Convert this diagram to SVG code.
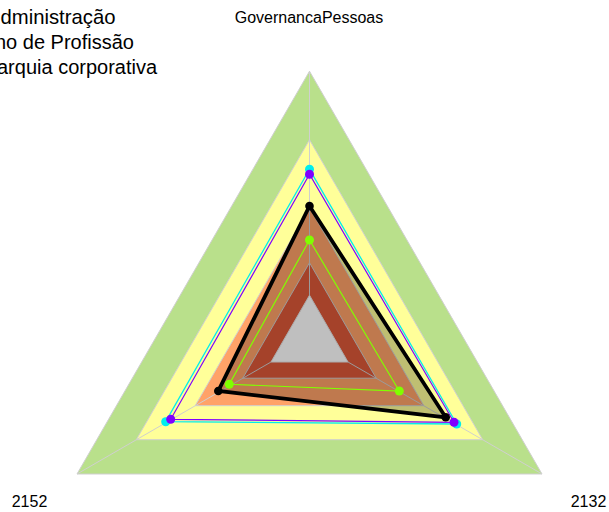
<svg xmlns="http://www.w3.org/2000/svg" width="609" height="512" viewBox="0 0 609 512">
<style>
.t{font-family:"Liberation Sans",Arial,sans-serif;fill:#000}
.band{stroke:#cfcfcf;stroke-width:1}
.axis{stroke:#cfcfcf;stroke-width:1;fill:none}
.ser{fill:none;stroke-linejoin:miter}
</style>
<rect width="609" height="512" fill="#fff"/>
<g id="bands">
<polygon class="band" fill="#b9e08b" points="309.5,71.2 77,474 542,474"/>
<polygon class="band" fill="#ffff99" points="309.5,139.7 136.3,439.7 482.7,439.7"/>
<polygon class="band" fill="#ffa268" points="309.5,207.7 195.2,405.7 423.8,405.7"/>
<polygon class="band" fill="#dd5839" points="309.5,262.7 242.8,378.2 376.2,378.2"/>
<polygon fill="#ffffff" stroke="#e6e6e6" stroke-width="1" points="309.5,295.2 271,362 348,362"/>
</g>
<g id="axes">
<line class="axis" x1="309.5" y1="295.2" x2="309.5" y2="71.2"/>
<line class="axis" x1="271" y1="362" x2="77" y2="474"/>
<line class="axis" x1="348" y1="362" x2="542" y2="474"/>
</g>
<g id="series-fill">
<polygon fill="#000" fill-opacity="0.25" points="309.5,206 218.3,391 445.7,417.3"/>
</g>
<g id="connectors">
<polygon class="ser" stroke="#00eeee" stroke-width="1.3" points="309.5,169.3 165.7,421.7 456.7,424"/>
<polygon class="ser" stroke="#8000ff" stroke-width="1.2" points="309.5,174.3 170.7,419.3 454,422.3"/>
<polygon class="ser" stroke="#000" stroke-width="3.8" points="309.5,206 218.3,391 445.7,417.3"/>
<polygon class="ser" stroke="#80ff00" stroke-width="1.2" points="309.5,240 229.3,384.3 399.3,391"/>
</g>
<g id="points-cyan" fill="#00eeee">
<circle cx="309.5" cy="169.3" r="4.5"/><circle cx="165.7" cy="421.7" r="4.5"/><circle cx="456.7" cy="424" r="4.5"/>
</g>
<g id="points-purple" fill="#8000ff">
<circle cx="309.5" cy="174.3" r="4.5"/><circle cx="170.7" cy="419.3" r="4.5"/><circle cx="454" cy="422.3" r="4.5"/>
</g>
<g id="points-black" fill="#000">
<circle cx="309.5" cy="206" r="4.3"/><circle cx="218.3" cy="391" r="4.3"/><circle cx="445.7" cy="417.3" r="4.3"/>
</g>
<g id="points-green" fill="#80ff00">
<circle cx="309.5" cy="240" r="4.5"/><circle cx="229.3" cy="384.3" r="4.5"/><circle cx="399.3" cy="391" r="4.5"/>
</g>
<g id="label-top"><text class="t" x="309" y="22.7" font-size="16" text-anchor="middle">GovernancaPessoas</text></g>
<g id="label-left"><text class="t" x="11.7" y="506.7" font-size="16">2152</text></g>
<g id="label-right"><text class="t" x="570.7" y="506.7" font-size="16">2132</text></g>
<g id="legend">
<text class="t" x="0.5" y="23.5" font-size="20.3">dministração</text>
<text class="t" x="-5" y="49" font-size="20">no de Profissão</text>
<text class="t" x="-3" y="74" font-size="20">arquia corporativa</text>
</g>
</svg>
